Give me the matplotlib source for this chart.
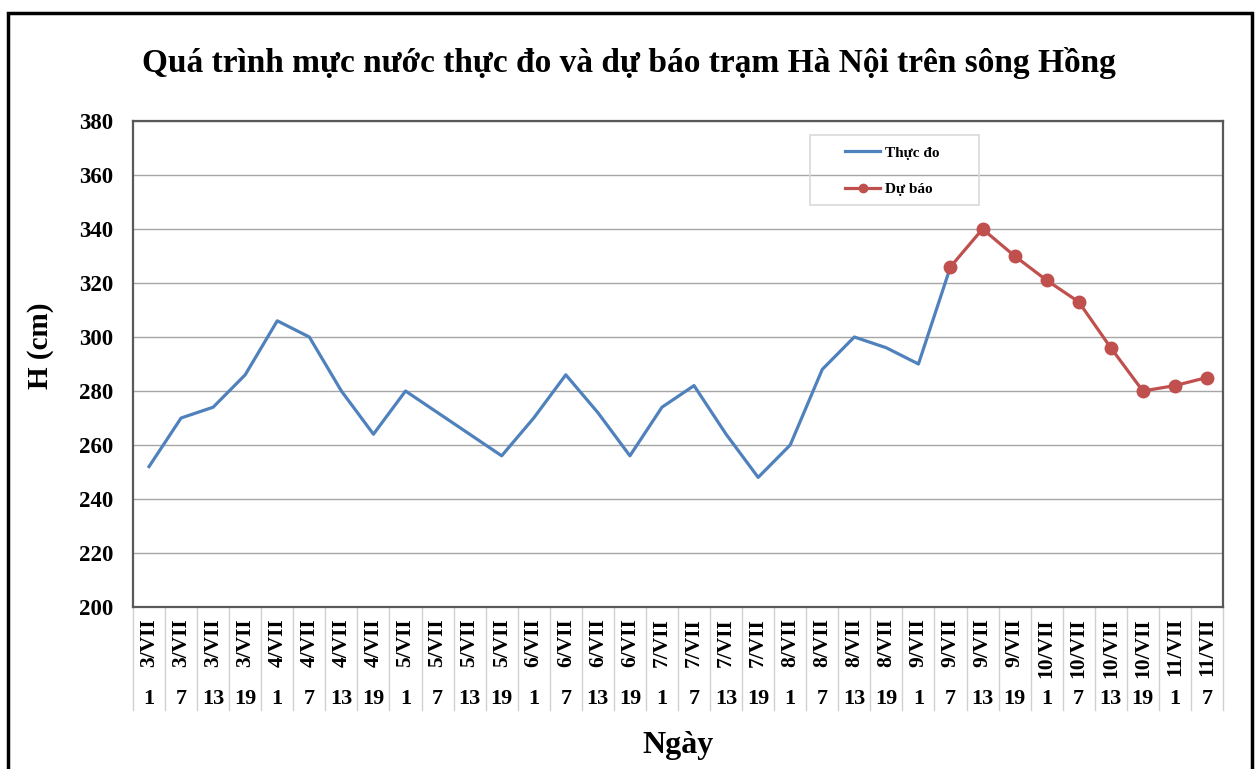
import numpy as np
import matplotlib
matplotlib.use("Agg")
import matplotlib.pyplot as plt
from matplotlib.patches import Rectangle
from matplotlib.lines import Line2D

# categories (ngày / giờ)
days = (["3/VII"] * 4 + ["4/VII"] * 4 + ["5/VII"] * 4 + ["6/VII"] * 4 +
        ["7/VII"] * 4 + ["8/VII"] * 4 + ["9/VII"] * 4 + ["10/VII"] * 4 +
        ["11/VII"] * 2)
hours = ["1", "7", "13", "19"] * 8 + ["1", "7"]

nan = np.nan
thuc_do = [252, 270, 274, 286, 306, 300, 280, 264,
           280, 272, 264, 256, 270, 286, 272, 256,
           274, 282, 264, 248, 260, 288, 300, 296,
           290, 326, nan, nan, nan, nan, nan, nan, nan, nan]
du_bao = [nan] * 25 + [326, 340, 330, 321, 313, 296, 280, 282, 285]

plt.rcParams['font.family'] = ['Liberation Serif', 'DejaVu Serif']
plt.rcParams['font.weight'] = 'bold'

W, H = 1255, 769
fig = plt.figure(figsize=(W / 100, H / 100), dpi=100)

# plot area in pixels
left, right, top, bottom = 133, 1223, 121, 607
ax = fig.add_axes([left / W, 1 - bottom / H, (right - left) / W, (bottom - top) / H])

x = np.arange(len(days))
blue = "#4F81BD"
red = "#C0504D"
ax.plot(x, thuc_do, color=blue, lw=2.3, zorder=3)
ax.plot(x, du_bao, color=red, lw=2.3, marker="o", markersize=9, zorder=4)

ax.set_xlim(-0.5, len(days) - 0.5)
ax.set_ylim(200, 380)
ax.set_yticks(np.arange(200, 381, 20))
ax.yaxis.grid(True, color="#a6a6a6", lw=1.0)
ax.set_axisbelow(True)
ax.set_xticks([])
ax.tick_params(axis="y", length=0, pad=14, labelsize=16.5)
for lab in ax.get_yticklabels():
    lab.set_fontweight("bold")
for sp in ax.spines.values():
    sp.set_color("#595959")
    sp.set_linewidth(1.6)

# category separators and two-level labels
ph = bottom - top
sep_bottom = -(710 - bottom) / ph
trans = ax.get_xaxis_transform()
for i in range(len(days) + 1):
    ax.plot([i - 0.5, i - 0.5], [0, sep_bottom], transform=trans,
            color="#d0d0d0", lw=1.0, clip_on=False)
for i, (d, h) in enumerate(zip(days, hours)):
    ax.text(i, -(618 - bottom) / ph, d, transform=trans, rotation=90,
            ha="center", va="top", fontsize=15.5, fontweight="bold")
    ax.text(i, -(699 - bottom) / ph, h, transform=trans,
            ha="center", va="center", fontsize=16, fontweight="bold")

# legend box drawn by hand, no fill so the gridline shows through
fig.patches.append(Rectangle((810 / W, 1 - 205 / H), (979 - 810) / W, 70 / H,
                             transform=fig.transFigure, fill=False,
                             edgecolor="#d9d9d9", lw=1.2))
handles = [Line2D([], [], color=blue, lw=2.3),
           Line2D([], [], color=red, lw=2.3, marker="o", markersize=6)]
leg = ax.legend(handles, ["Thực đo", "Dự báo"], loc="upper left",
                bbox_to_anchor=((845 - left) / (right - left), 1 - (146 - top) / ph),
                frameon=False, prop={"size": 11, "weight": "bold"},
                labelspacing=1.5, handlelength=2.3, borderpad=0,
                handletextpad=0.3, borderaxespad=0)

# titles
fig.text(629 / W, 1 - 63 / H, "Quá trình mực nước thực đo và dự báo trạm Hà Nội trên sông Hồng",
         ha="center", va="center", fontsize=24, fontweight="bold")
fig.text(678 / W, 1 - 745 / H, "Ngày", ha="center", va="center",
         fontsize=23, fontweight="bold")
fig.text(40 / W, 1 - 346 / H, "H (cm)", ha="center", va="center", rotation=90,
         fontsize=21, fontweight="bold")

# outer chart border
fig.patches.append(Rectangle((8 / W, -0.05), (1252 - 8) / W, 1.05 - 13 / H,
                             transform=fig.transFigure, fill=False,
                             edgecolor="black", lw=2.5))

fig.savefig("out.png", dpi=100)
